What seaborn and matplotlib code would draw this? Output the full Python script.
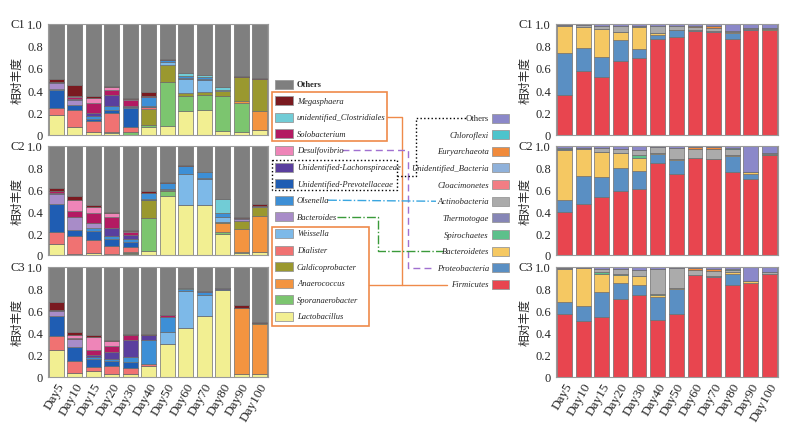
import numpy as np
import pandas as pd
import seaborn as sns
import matplotlib.pyplot as plt
from matplotlib.patches import Rectangle

days = ["Day5", "Day10", "Day15", "Day20", "Day30", "Day40",
        "Day50", "Day60", "Day70", "Day80", "Day90", "Day100"]

# genus level, stacking order bottom -> top ("Others" is the rest up to 1)
genus = ["Lactobacillus", "Sporanaerobacter", "Anaerococcus", "Caldicoprobacter",
         "Dialister", "Weissella", "Unidentified-Prevotellaceae", "Olsenella",
         "Bacteroides", "Unidentified-Lachonspiraceae", "Solobacterium",
         "Desulfovibrio", "unidentified_Clostridiales", "Megasphaera"]
genus_colors = ["#f2ef92", "#7cc56f", "#f39440", "#9a982f", "#f07272", "#7db9e8",
                "#1f5db3", "#3d8fd6", "#a88cc8", "#5a3f9e", "#b31a62", "#ee85b8",
                "#71ccd6", "#7a1a20"]
# order in the legend, top -> bottom
genus_legend = ["Others", "Megasphaera", "unidentified_Clostridiales", "Solobacterium",
                "Desulfovibrio", "Unidentified-Lachonspiraceae",
                "Unidentified-Prevotellaceae", "Olsenella", "Bacteroides", "Weissella",
                "Dialister", "Caldicoprobacter", "Anaerococcus", "Sporanaerobacter",
                "Lactobacillus"]

c1_genus = [
    [.18, .07, .02, .01, .00, .07, .08, .21, .22, .03, .02, .04],
    [0, 0, 0, .01, .02, .02, .39, .14, .14, .32, .26, 0],
    [0, 0, 0, 0, 0, 0, 0, 0, 0, 0, .02, .17],
    [0, 0, 0, 0, 0, .14, .16, .02, .02, .04, .22, .29],
    [.06, .15, .10, .17, .05, .02, 0, 0, 0, 0, 0, 0],
    [0, 0, 0, 0, 0, 0, .02, .13, .11, .01, 0, 0],
    [.16, .05, .02, .03, .17, .01, 0, .01, .01, 0, 0, 0],
    [.01, 0, .03, .04, .01, .08, .02, .02, .02, 0, 0, 0],
    [.05, .04, 0, 0, 0, 0, 0, 0, 0, 0, 0, 0],
    [.01, .01, .02, .10, .01, 0, 0, 0, 0, 0, 0, 0],
    [0, .02, .09, .04, .05, .01, 0, 0, 0, 0, 0, 0],
    [0, .01, .05, .03, .01, 0, 0, 0, 0, 0, 0, 0],
    [0, 0, 0, 0, 0, 0, 0, .02, .02, .03, 0, 0],
    [.03, .10, .02, .01, .01, .03, .01, 0, 0, 0, .01, .01],
]
c2_genus = [
    [.10, .01, .02, 0, .01, .04, .54, .46, .46, .19, .02, .03],
    [0, 0, 0, 0, .01, .30, .04, 0, 0, .02, .01, 0],
    [0, 0, 0, 0, 0, 0, 0, 0, 0, .08, .21, .33],
    [0, 0, 0, .01, .01, .16, .01, 0, 0, .01, .07, .08],
    [.11, .16, .12, .07, .04, 0, 0, 0, 0, 0, 0, 0],
    [0, 0, 0, 0, 0, 0, .01, .28, .23, .05, 0, 0],
    [.26, .06, .08, .07, .05, .01, 0, 0, .01, 0, 0, 0],
    [0, 0, .03, .02, .03, .06, .06, .07, .06, .03, 0, 0],
    [.09, .12, .04, 0, 0, 0, 0, 0, 0, 0, .02, .01],
    [.01, 0, 0, .08, .03, 0, 0, 0, 0, 0, .01, 0],
    [.01, .05, .09, .10, .03, 0, 0, 0, 0, 0, 0, 0],
    [0, .10, .06, .03, .01, 0, 0, 0, 0, 0, 0, 0],
    [0, 0, 0, 0, 0, 0, 0, 0, 0, .13, 0, 0],
    [.03, .04, .02, .01, .01, .01, .01, .01, 0, 0, .01, .02],
]
c3_genus = [
    [.24, .03, .05, .02, .02, .10, .30, .44, .55, .79, .02, .02],
    [0, 0, 0, 0, 0, 0, 0, 0, 0, 0, 0, 0],
    [0, 0, 0, 0, 0, 0, 0, 0, 0, 0, .61, .46],
    [0, 0, 0, 0, 0, 0, 0, 0, 0, 0, 0, .01],
    [.13, .11, .04, .08, .06, .01, 0, 0, 0, 0, 0, 0],
    [0, 0, 0, 0, 0, 0, .11, .34, .19, 0, 0, 0],
    [.18, .13, .07, .04, .05, 0, 0, 0, 0, 0, 0, 0],
    [0, 0, .02, .02, .05, .22, .13, .02, .03, .01, 0, 0],
    [.05, .07, 0, 0, 0, 0, 0, 0, 0, 0, 0, 0],
    [.01, 0, .02, .06, .15, .05, 0, 0, .01, .01, 0, 0],
    [0, .01, .04, .06, .05, 0, .02, 0, 0, 0, 0, 0],
    [0, .03, .12, .04, 0, 0, 0, 0, 0, 0, 0, 0],
    [0, 0, 0, 0, 0, 0, 0, .01, 0, 0, 0, 0],
    [.07, .03, .02, .01, .01, .01, 0, 0, 0, 0, .02, .01],
]

# phylum level, stacking order bottom -> top
phylum = ["Firmicutes", "Proteobacteria", "Bacteroidetes", "Spirochaetes",
          "Thermotogae", "Actinobacteria", "Cloacimonetes",
          "Unidentified_Bacteria", "Euryarchaeota", "Chloroflexi"]
phylum_colors = ["#e8454f", "#5a8fc3", "#f5c862", "#5dc08b", "#8686b6",
                 "#ababab", "#f27d84", "#8fb1da", "#f08a3b", "#4dc4cc"]

c1_phylum = [
    [.36, .57, .52, .66, .69, .86, .88, .93, .92, .86, .94, .94],
    [.37, .21, .18, .19, .08, .04, .06, .01, .01, .05, .01, 0],
    [.25, .19, .25, .07, .20, .01, 0, 0, 0, .01, 0, .01],
    [0, 0, 0, 0, 0, 0, 0, 0, 0, 0, 0, 0],
    [0, 0, 0, 0, 0, 0, 0, 0, 0, 0, 0, 0],
    [.01, .02, .03, .06, .01, .07, .04, .03, .03, .01, .01, .01],
    [0, 0, 0, 0, 0, 0, 0, 0, 0, 0, 0, 0],
    [0, 0, 0, 0, 0, 0, 0, 0, 0, 0, 0, 0],
    [0, 0, 0, 0, 0, 0, 0, .01, .02, 0, 0, 0],
    [0, 0, 0, 0, 0, 0, 0, 0, 0, 0, 0, 0],
]
c2_phylum = [
    [.39, .47, .53, .58, .60, .84, .74, .89, .88, .76, .69, .91],
    [.11, .25, .18, .21, .17, .08, .13, 0, 0, .14, .05, 0],
    [.46, .25, .23, .14, .12, .01, .01, 0, 0, .01, .02, 0],
    [0, 0, 0, 0, .02, 0, 0, 0, 0, 0, 0, .01],
    [0, 0, 0, 0, 0, 0, 0, 0, 0, 0, 0, 0],
    [.01, .01, .04, .04, .05, .06, .10, .08, .09, .06, 0, .01],
    [0, 0, 0, 0, 0, 0, 0, 0, 0, 0, 0, 0],
    [0, 0, 0, 0, 0, 0, 0, 0, 0, 0, 0, 0],
    [0, 0, 0, 0, 0, 0, 0, .02, .02, 0, 0, 0],
    [.01, 0, 0, 0, 0, 0, 0, 0, 0, .01, 0, 0],
]
c3_phylum = [
    [.57, .51, .54, .71, .74, .52, .57, .93, .91, .84, .85, .94],
    [.11, .13, .23, .14, .10, .21, .23, 0, .01, .10, 0, 0],
    [.30, .35, .17, .08, .08, .01, .01, 0, 0, .01, .02, 0],
    [0, 0, .01, .01, 0, .01, 0, 0, 0, 0, 0, 0],
    [0, 0, 0, 0, 0, 0, 0, 0, 0, 0, 0, 0],
    [.01, 0, .03, .04, .05, .23, .18, .04, .04, .02, 0, .01],
    [0, 0, 0, 0, 0, 0, 0, 0, 0, 0, 0, 0],
    [0, 0, 0, 0, 0, 0, 0, 0, 0, 0, 0, 0],
    [0, 0, 0, 0, 0, 0, 0, .02, .02, 0, 0, 0],
    [0, 0, 0, 0, 0, 0, 0, 0, 0, .01, 0, 0],
]

genus_others_color = "#7f7f7f"
phylum_others_color = "#8b88c9"

sns.set_theme(style="white")
plt.rcParams["font.family"] = ["Liberation Serif", "Noto Sans CJK SC"]

W, H = 805, 431
fig = plt.figure(figsize=(W / 100, H / 100), dpi=100)

# overlay in pixel coords for legends and connectors
ov = fig.add_axes([0, 0, 1, 1])
ov.set_xlim(0, W)
ov.set_ylim(H, 0)
ov.axis("off")


def px_axes(x0, y_top, x1, y_bot):
    return fig.add_axes([x0 / W, 1 - y_bot / H, (x1 - x0) / W, (y_bot - y_top) / H])


def stacked(ax, rows, names, colors, others_color, label, show_x):
    df = pd.DataFrame(rows, index=names, columns=days).T
    df["Others"] = (1 - df.sum(axis=1)).clip(lower=0)
    bottom = np.zeros(len(days))
    for name, col in zip(list(names) + ["Others"], list(colors) + [others_color]):
        sns.barplot(x=days, y=df[name].values, bottom=bottom, color=col,
                    width=0.8, edgecolor="#6e6e6e", linewidth=0.5,
                    errorbar=None, saturation=1, ax=ax)
        bottom = bottom + df[name].values
    ax.set_ylim(0, 1)
    ax.set_xlim(-0.45, len(days) - 0.55)
    ax.set_yticks([0, 0.2, 0.4, 0.6, 0.8, 1.0])
    ax.set_yticklabels(["0", "0.2", "0.4", "0.6", "0.8", "1.0"], fontsize=9)
    ax.tick_params(axis="y", length=2, color="#888888", pad=1.5)
    ax.set_xlabel("")
    ax.set_ylabel("相对丰度", family=["Noto Sans CJK SC"], fontsize=8.5, labelpad=3)
    for s in ax.spines.values():
        s.set_color("#9a9a9a")
        s.set_linewidth(0.8)
    if show_x:
        ax.set_xticks(range(len(days)))
        ax.set_xticklabels(days, rotation=60, ha="right", rotation_mode="anchor",
                           fontsize=9.5)
        ax.tick_params(axis="x", length=0, pad=3)
    else:
        ax.set_xticks([])
    ax.text(-0.105, 1.0, label, transform=ax.transAxes, ha="right", va="center",
            fontsize=9)


rows_y = [(24.5, 135.5), (146.5, 256), (268, 377.5)]
labels = ["C1", "C2", "C3"]
left_data = [c1_genus, c2_genus, c3_genus]
right_data = [c1_phylum, c2_phylum, c3_phylum]
for i, (yt, yb) in enumerate(rows_y):
    axl = px_axes(48, yt, 268, yb)
    stacked(axl, left_data[i], genus, genus_colors, genus_others_color, labels[i], i == 2)
    axr = px_axes(556, yt, 778, yb)
    stacked(axr, right_data[i], phylum, phylum_colors, phylum_others_color, labels[i], i == 2)

# genus legend (top -> bottom)
g_color = dict(zip(genus + ["Others"], genus_colors + [genus_others_color]))
g_y = {}
for k, n in enumerate(genus_legend):
    y = 85 + k * 16.6
    g_y[n] = y
    ov.add_patch(Rectangle((275, y - 4.5), 18, 9, facecolor=g_color[n],
                           edgecolor="#999999", lw=0.6))
    ov.text(297, y, n, va="center", ha="left", fontsize=6.1,
            style="normal" if n == "Others" else "italic",
            weight="bold" if n == "Others" else "normal")

# phylum legend (top -> bottom)
p_names = ["Others"] + phylum[::-1]
p_cols = [phylum_others_color] + phylum_colors[::-1]
p_y = {}
for k, (n, c) in enumerate(zip(p_names, p_cols)):
    y = 119 + k * 16.65
    p_y[n] = y
    ov.add_patch(Rectangle((492, y - 4.5), 17, 9, facecolor=c, edgecolor="#999999", lw=0.6))
    ov.text(489, y, n, va="center", ha="right", fontsize=6.2,
            style="normal" if n == "Others" else "italic")

orange = "#ef8a4a"
# boxes
ov.add_patch(Rectangle((272, 93), 115, 49, fill=False, edgecolor=orange, lw=1.2))
ov.add_patch(Rectangle((272, 228), 97, 99, fill=False, edgecolor=orange, lw=1.2))
ov.add_patch(Rectangle((272, 161), 125, 30, fill=False, edgecolor="black", lw=1, ls=":"))

# connectors
ov.plot([387, 402, 402], [g_y["unidentified_Clostridiales"]] * 2 + [p_y["Firmicutes"]],
        color=orange, lw=1)
ov.plot([369, 447], [p_y["Firmicutes"]] * 2, color=orange, lw=1)
ov.plot([342, 408, 408, 433], [g_y["Desulfovibrio"], g_y["Desulfovibrio"],
                               p_y["Proteobacteria"], p_y["Proteobacteria"]],
        color="#a070d0", lw=1, ls=(0, (5, 3)))
ov.plot([397, 416, 416, 466], [177, 177, p_y["Others"], p_y["Others"]],
        color="black", lw=1, ls=":")
ov.plot([328, 436], [g_y["Olsenella"], p_y["Actinobacteria"]],
        color="#3aa6e0", lw=1, ls="-.")
ov.plot([337, 378, 378, 443], [g_y["Bacteroides"], g_y["Bacteroides"],
                               p_y["Bacteroidetes"], p_y["Bacteroidetes"]],
        color="#3a9a3a", lw=1, ls="-.")

fig.savefig("out.png", dpi=100)
